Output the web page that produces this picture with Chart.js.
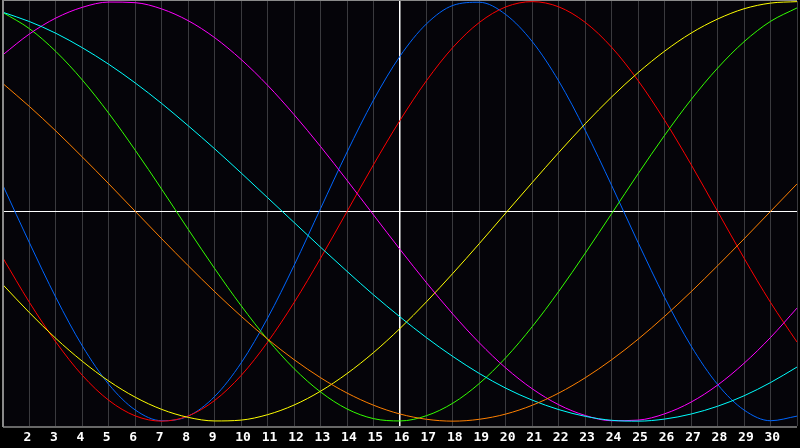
<!DOCTYPE html>
<html>
<head>
<meta charset="utf-8">
<script src="https://cdn.jsdelivr.net/npm/chart.js@4/dist/chart.umd.min.js"></script>
<style>
  html, body { margin: 0; padding: 0; background: #000; }
  #wrap { width: 800px; height: 448px; }
</style>
</head>
<body>
<div id="wrap"><canvas id="bioChart"></canvas></div>
<script>
// days of the month along the bottom
const days = [1,2,3,4,5,6,7,8,9,10,11,12,13,14,15,16,17,18,19,20,21,22,23,24,25,26,27,28,29,30,31];

// cycle values (-1 .. 1)
const physical = [0.123,-0.150,-0.411,-0.642,-0.825,-0.947,-0.998,-0.976,-0.882,-0.722,-0.508,-0.257,0.014,0.283,0.531,0.740,0.894,0.982,0.997,0.938,0.809,0.621,0.386,0.123,-0.150,-0.411,-0.642,-0.825,-0.947,-0.998,-0.976];
const emotional = [-0.223,-0.434,-0.623,-0.782,-0.901,-0.975,-1.000,-0.975,-0.901,-0.782,-0.623,-0.434,-0.223,0.000,0.223,0.434,0.623,0.782,0.901,0.975,1.000,0.975,0.901,0.782,0.623,0.434,0.223,0.000,-0.223,-0.434,-0.623];
const intellectual = [0.948,0.871,0.762,0.626,0.467,0.291,0.105,-0.086,-0.273,-0.450,-0.611,-0.750,-0.861,-0.942,-0.988,-0.999,-0.974,-0.914,-0.820,-0.697,-0.549,-0.381,-0.199,-0.010,0.180,0.363,0.533,0.683,0.809,0.906,0.970];
const intuitive = [0.747,0.846,0.922,0.973,0.998,0.995,0.965,0.909,0.828,0.724,0.601,0.461,0.309,0.148,-0.017,-0.181,-0.340,-0.490,-0.627,-0.747,-0.846,-0.922,-0.973,-0.998,-0.995,-0.965,-0.909,-0.828,-0.724,-0.601,-0.461];
const aesthetic = [-0.350,-0.483,-0.606,-0.715,-0.809,-0.886,-0.944,-0.982,-0.999,-0.995,-0.969,-0.923,-0.857,-0.773,-0.673,-0.558,-0.431,-0.295,-0.153,-0.007,0.138,0.281,0.418,0.546,0.662,0.764,0.850,0.917,0.966,0.993,1.000];
const awareness = [0.609,0.500,0.383,0.259,0.131,0.000,-0.131,-0.259,-0.383,-0.500,-0.609,-0.707,-0.793,-0.866,-0.924,-0.966,-0.991,-1.000,-0.991,-0.966,-0.924,-0.866,-0.793,-0.707,-0.609,-0.500,-0.383,-0.259,-0.131,0.000,0.131];
const spiritual = [0.949,0.905,0.849,0.780,0.701,0.612,0.514,0.408,0.298,0.183,0.065,-0.053,-0.171,-0.286,-0.398,-0.503,-0.602,-0.692,-0.773,-0.843,-0.900,-0.945,-0.977,-0.996,-1.000,-0.990,-0.966,-0.929,-0.879,-0.816,-0.742];

const todayIndex = 15; // day 16, the white line

// dark background, zero line and thin grey frame
const frame = {
    id: 'frame',
    beforeDraw(chart) {
        const c = chart.ctx, a = chart.chartArea;
        c.save();
        c.fillStyle = '#000000';
        c.fillRect(0, 0, chart.width, chart.height);
        c.fillStyle = '#050409';
        c.fillRect(a.left, 0, a.right - a.left, a.bottom);
        c.restore();
    },
    beforeDatasetsDraw(chart) {
        const c = chart.ctx, a = chart.chartArea;
        const y0 = Math.round(chart.scales.y.getPixelForValue(0)) + 0.5;
        c.save();
        c.strokeStyle = '#ffffff';
        c.lineWidth = 1.2;
        c.beginPath();
        c.moveTo(a.left, y0);
        c.lineTo(a.right, y0);
        c.stroke();
        c.restore();
    },
    afterDatasetsDraw(chart) {
        const c = chart.ctx, a = chart.chartArea;
        c.save();
        c.strokeStyle = '#8a8a8a';
        c.lineWidth = 2;
        c.beginPath();
        c.moveTo(a.left, a.bottom + 0.5);
        c.lineTo(a.left, 0);
        c.lineTo(a.right, 0);
        c.stroke();
        c.lineWidth = 1.5;
        c.beginPath();
        c.moveTo(a.left, a.bottom + 0.5);
        c.lineTo(a.right, a.bottom + 0.5);
        c.stroke();
        c.restore();
    }
};

function line(label, data, color) {
    return {
        label: label,
        data: data,
        borderColor: color,
        borderWidth: 1,
        pointRadius: 0,
        cubicInterpolationMode: 'monotone',
        fill: false
    };
}

const data = {
    labels: days,
    datasets: [
        line('Awareness', awareness, '#ff8000'),
        line('Spiritual', spiritual, '#00ffff'),
        line('Intuitive', intuitive, '#ff00ff'),
        line('Aesthetic', aesthetic, '#ffff00'),
        line('Intellectual', intellectual, '#33ff00'),
        line('Emotional', emotional, '#ff0000'),
        line('Physical', physical, '#0066ff')
    ]
};

const config = {
    type: 'line',
    data: data,
    options: {
        responsive: true,
        maintainAspectRatio: false,
        animation: false,
        layout: { padding: { top: 1, left: 0, right: 0, bottom: 0 } },
        plugins: {
            legend: { display: false },
            tooltip: { enabled: false }
        },
        scales: {
            x: {
                offset: false,
                border: { display: false },
                grid: {
                    drawTicks: false,
                    lineWidth: (ctx) => ctx.index === todayIndex ? 1.5 : 1,
                    color: (ctx) => ctx.index === todayIndex ? '#ffffff' : '#3a3a3e'
                },
                ticks: {
                    padding: 3,
                    color: '#ffffff',
                    maxRotation: 0,
                    autoSkip: false,
                    align: 'start',
                    labelOffset: -6,
                    font: { family: 'DejaVu Sans Mono', size: 13, weight: 'bold' },
                    callback: function (val, i) {
                        return (i === 0 || i === days.length - 1) ? '' : days[i];
                    }
                }
            },
            y: {
                display: false,
                min: -1.025,
                max: 1.003
            }
        }
    },
    plugins: [frame]
};

new Chart(document.getElementById('bioChart'), config);
</script>
</body>
</html>
